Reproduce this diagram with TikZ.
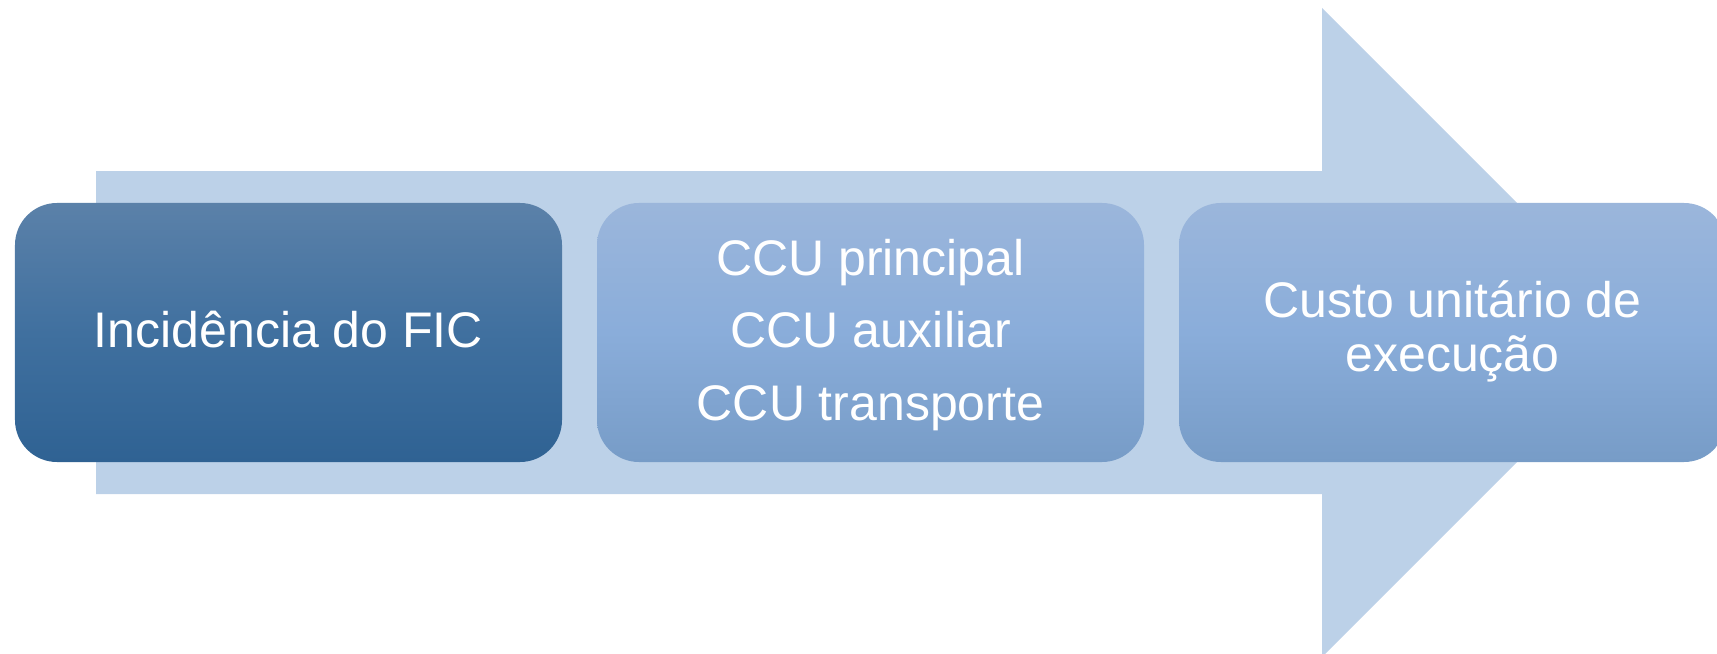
\documentclass[tikz,border=0pt]{standalone}
\usepackage{fontspec}
\setmainfont{Liberation Sans}
\definecolor{arrowfill}{HTML}{BCD1E8}
\definecolor{darktop}{HTML}{5B81A9}
\definecolor{darkmid}{HTML}{40709F}
\definecolor{darkbot}{HTML}{2F6293}
\definecolor{lighttop}{HTML}{9BB6DB}
\definecolor{lightmid}{HTML}{8AADDA}
\definecolor{lightbot}{HTML}{779CC7}
\tikzset{
  card/.style={rectangle, rounded corners=42bp, minimum width=547bp,
    minimum height=259bp, inner sep=0pt, draw=none},
  darkcard/.style={card, top color=darktop, bottom color=darkbot, middle color=darkmid},
  lightcard/.style={card, top color=lighttop, bottom color=lightbot, middle color=lightmid},
  lbl/.style={text=white, inner sep=0pt, align=center, anchor=base},
}
\begin{document}
\begin{tikzpicture}[x=1bp,y=-1bp]
\useasboundingbox (0,0) rectangle (1717,654);
\clip (0,0) rectangle (1717,654);
% the broad process arrow behind the cards
\fill[arrowfill] (96,171) -- (1322,171) -- (1322,8) -- (1646.5,332.5)
  -- (1322,657) -- (1322,494) -- (96,494) -- cycle;
% the three cards
\node[darkcard]  (b1) at (288.5,332.5) {};
\node[lightcard] (b2) at (870.5,332.5) {};
\node[lightcard] (b3) at (1452.5,332.5) {};
% card texts
\node[lbl, font=\fontsize{50bp}{60bp}\selectfont] (t1) at (288.5,347) {Incidência do FIC};
\node[lbl, font=\fontsize{50bp}{72.5bp}\selectfont] (t2) at (870.5,420)
  {CCU principal\\CCU auxiliar\\CCU transporte};
\node[lbl, font=\fontsize{50bp}{54bp}\selectfont] (t3) at (1452.5,371)
  {Custo unitário de\\execução};
\end{tikzpicture}
\end{document}
